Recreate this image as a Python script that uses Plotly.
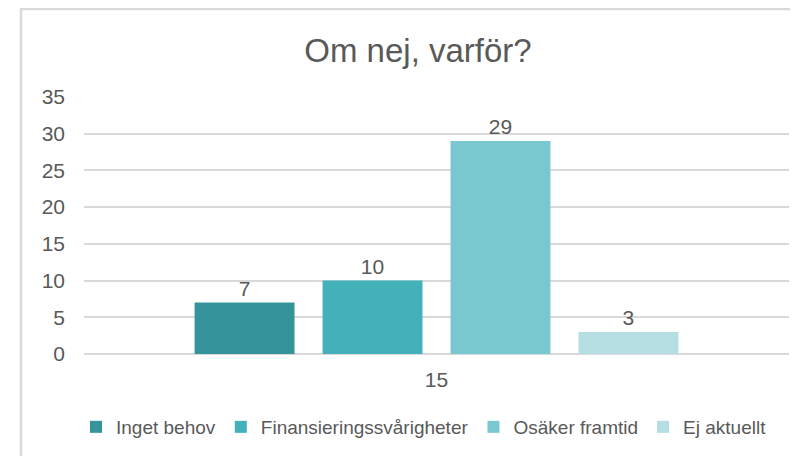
import plotly.graph_objects as go

categories = ["15"]
series_names = ["Inget behov", "Finansieringssvårigheter", "Osäker framtid", "Ej aktuellt"]
series_values = [[7], [10], [29], [3]]
colors = ["#35939A", "#42B1B9", "#7AC8CF", "#B4DEE2"]
y_ticks = [0, 5, 10, 15, 20, 25, 30, 35]

TXT = "#595959"
FONT = "Liberation Sans, Arial, sans-serif"

# the page body adds an 8px offset; the figure is sized so the plot lands where the reference has it
W, H, OFF = 790, 448, 8

fig = go.Figure()
for name, vals, col in zip(series_names, series_values, colors):
    fig.add_trace(go.Bar(
        x=categories, y=vals, name=name,
        marker=dict(color=col, line=dict(width=0)),
        text=[str(v) for v in vals], textposition="outside",
        textfont=dict(size=21, color=TXT, family=FONT),
        cliponaxis=False,
    ))

fig.update_layout(
    width=W, height=H,
    margin=dict(l=84 - OFF, r=9, t=97 - OFF, b=102, autoexpand=False),
    paper_bgcolor="white", plot_bgcolor="white",
    barmode="group", bargap=0.274, bargroupgap=0.219,
    font=dict(family=FONT, color=TXT, size=21),
    title=dict(text="Om nej, varför?", x=(418 - OFF) / W, xanchor="center",
               y=1 - (50 - OFF) / H, yanchor="middle", yref="container",
               font=dict(size=33, color=TXT, family=FONT)),
    showlegend=True,
    legend=dict(orientation="h", xref="container", x=(424 - OFF) / W, xanchor="center",
                yref="container", y=1 - (427 - OFF) / H, yanchor="middle",
                font=dict(size=19, color=TXT, family=FONT),
                itemwidth=30, itemsizing="constant", traceorder="normal",
                bgcolor="rgba(0,0,0,0)"),
    xaxis=dict(type="category", showgrid=False, showline=False, zeroline=False,
               ticks="outside", ticklen=7, tickcolor="rgba(0,0,0,0)",
               tickfont=dict(size=21, color=TXT)),
    yaxis=dict(range=[0, 35], tickvals=y_ticks, showgrid=True, gridcolor="#D9D9D9",
               gridwidth=1.5, zeroline=True, zerolinecolor="#D9D9D9", zerolinewidth=1.5,
               showline=False, ticks="", ticklabelstandoff=18,
               tickfont=dict(size=21, color=TXT)),
    shapes=[dict(type="rect", xref="paper", yref="paper",
                 x0=(21 - 84) / 705, x1=1.2, y0=-0.6, y1=(354 - 9) / 257,
                 line=dict(color="#D9D9D9", width=2.5), fillcolor="rgba(0,0,0,0)",
                 layer="below")],
)

fig.write_html("out.html")
